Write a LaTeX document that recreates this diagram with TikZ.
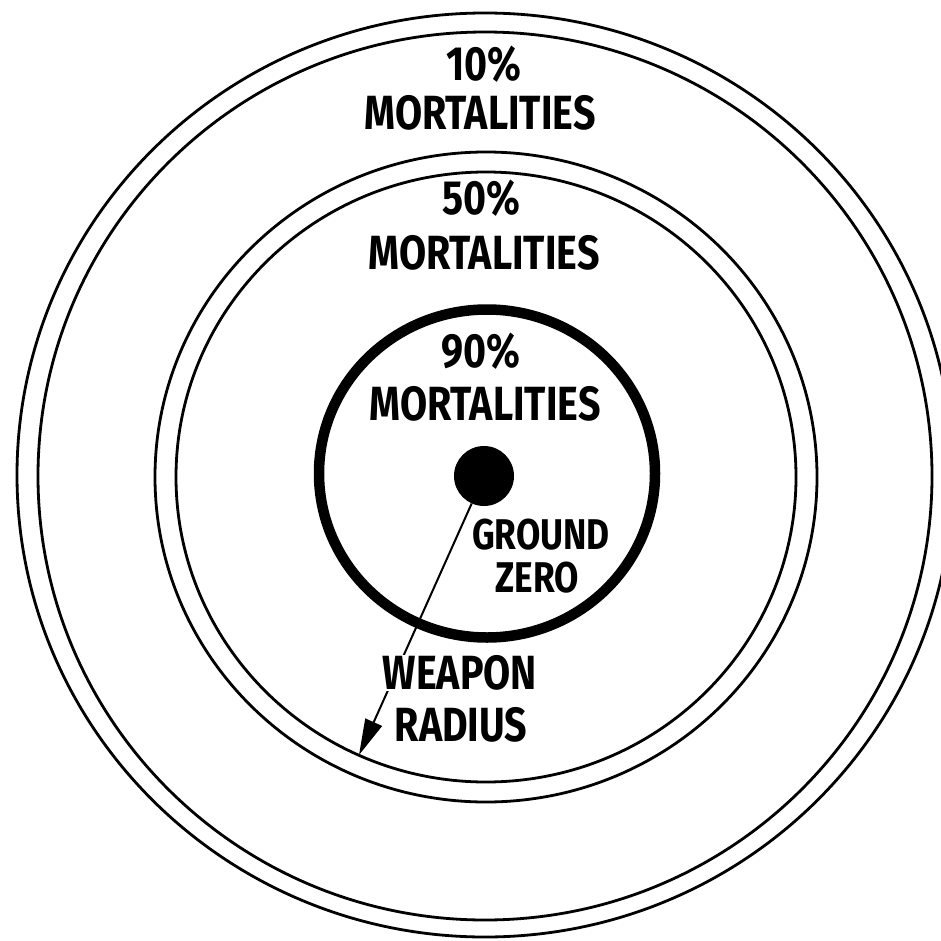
\documentclass[tikz,border=0pt]{standalone}
\usepackage{fontspec}
\usepackage{graphicx}
\setmainfont{Fira Sans}
\usetikzlibrary{arrows.meta}
\newcommand{\narrowtxt}[1]{\scalebox{0.82}[1]{#1}}
\begin{document}
\begin{tikzpicture}[x=1pt,y=-1pt,
  ring/.style={line width=2.8pt},
  thickring/.style={line width=10.5pt},
  lab/.style={font=\fontsize{48}{50}\selectfont\bfseries, inner sep=1pt, anchor=center},
  smalllab/.style={font=\fontsize{43}{45}\selectfont\bfseries, inner sep=1pt, anchor=center},
]
\useasboundingbox (0,0) rectangle (940,941);
\fill[white] (0,0) rectangle (940,941);
% 10% rings
\draw[ring] (485,475) ellipse[x radius=468, y radius=462];
\draw[ring] (485,476) ellipse[x radius=447, y radius=444];
% 50% rings
\draw[ring] (486,477) ellipse[x radius=331, y radius=325];
\draw[ring] (486,477) ellipse[x radius=310, y radius=305];
% 90% ring
\draw[thickring] (487,473.5) ellipse[x radius=168, y radius=164];
% ground zero
\node[circle, fill=black, minimum size=60pt, inner sep=0pt] (gz) at (484,476) {};
\coordinate (tip) at (359,755);
\draw[line width=2pt, -{Triangle[length=36pt,width=18pt]}] (gz) -- (tip);
% labels
\node[lab] (t10a) at (484,64) {\narrowtxt{10\%}};
\node[lab] (t10b) at (480,113) {\narrowtxt{MORTALITIES}};
\node[lab] (t50a) at (481,198) {\narrowtxt{50\%}};
\node[lab] (t50b) at (484,253) {\narrowtxt{MORTALITIES}};
\node[lab] (t90a) at (481,351) {\narrowtxt{90\%}};
\node[lab] (t90b) at (485,404) {\narrowtxt{MORTALITIES}};
\node[smalllab] (gza) at (541,535) {\narrowtxt{GROUND}};
\node[smalllab] (gzb) at (537,578) {\narrowtxt{ZERO}};
\node[lab, fill=white] (wra) at (460,673) {\narrowtxt{WEAPON}};
\node[lab] (wrb) at (461,725) {\narrowtxt{RADIUS}};
\end{tikzpicture}
\end{document}
